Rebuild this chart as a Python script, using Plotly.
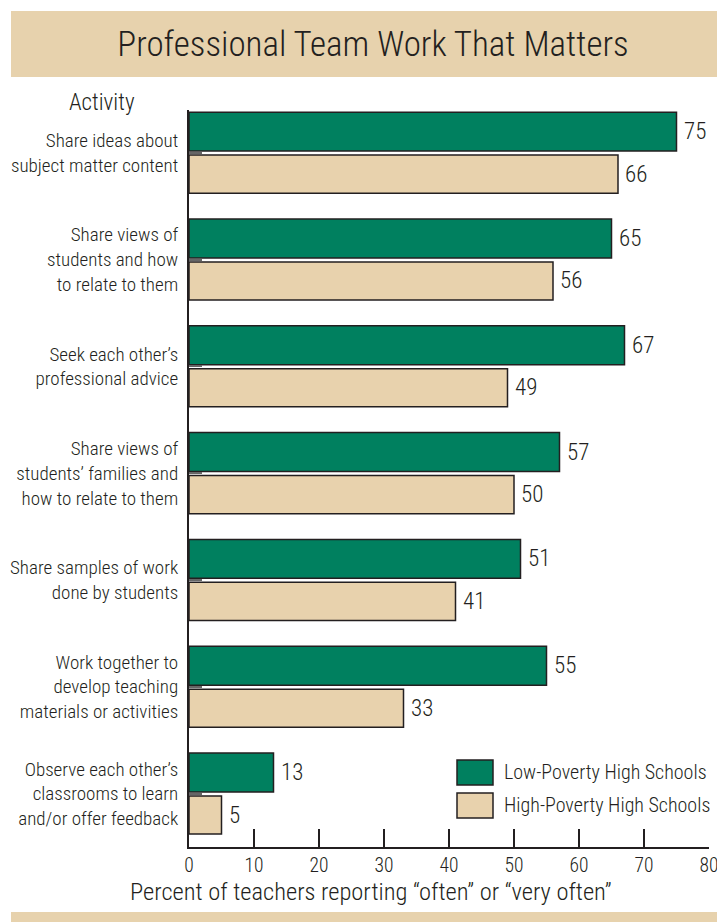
import plotly.graph_objects as go

# ---------------- data ----------------
activities = [
    "Share ideas about<br>subject matter content",
    "Share views of<br>students and how<br>to relate to them",
    "Seek each other’s<br>professional advice",
    "Share views of<br>students’ families and<br>how to relate to them",
    "Share samples of work<br>done by students",
    "Work together to<br>develop teaching<br>materials or activities",
    "Observe each other’s<br>classrooms to learn<br>and/or offer feedback",
]
low_poverty = [75, 65, 67, 57, 51, 55, 13]
high_poverty = [66, 56, 49, 50, 41, 33, 5]
x_ticks = [0, 10, 20, 30, 40, 50, 60, 70, 80]
series_names = ["Low-Poverty High Schools", "High-Poverty High Schools"]
title_text = "Professional Team Work That Matters"
y_title = "Activity"
x_title = "Percent of teachers reporting “often” or “very often”"

# ---------------- style ----------------
W, H = 725, 922
OFF = 8  # page body margin: screen pixel = figure pixel + OFF
# plot area in screen pixels
PX0, PX1, PY0, PY1 = 189, 709, 110, 847
ML, MR = PX0 - OFF, W - (PX1 - OFF)
MT, MB = PY0 - OFF, H - (PY1 - OFF)
PW, PH = PX1 - PX0, PY1 - PY0
GREEN = "#00805F"
BEIGE = "#E8D2AD"
BAND = "#E7D2AD"
INK = "#231F20"
FONT = "Liberation Sans Narrow, Roboto Condensed, DejaVu Sans Condensed, Lato, sans-serif"
TXT = dict(color=INK, family=FONT, weight=300)


def px_x(p):
    return (p - PX0) / PW


def px_y(p):
    return (PY1 - p) / PH


pos = list(range(len(activities)))
G_OFF, G_W = -0.38, 0.365
B_OFF, B_W = 0.022, 0.357

fig = go.Figure()
fig.add_trace(go.Bar(
    x=low_poverty, y=pos, orientation="h", name=series_names[0],
    width=G_W, offset=G_OFF,
    marker=dict(color=GREEN, line=dict(color=INK, width=1.5)),
    showlegend=False, hoverinfo="x",
))
fig.add_trace(go.Bar(
    x=high_poverty, y=pos, orientation="h", name=series_names[1],
    width=B_W, offset=B_OFF,
    marker=dict(color=BEIGE, line=dict(color=INK, width=1.5)),
    showlegend=False, hoverinfo="x",
))

annotations = []
for i, (a, b) in enumerate(zip(low_poverty, high_poverty)):
    annotations.append(dict(x=a, y=i + G_OFF + G_W / 2, xref="x", yref="y",
                            text=str(a), showarrow=False, xanchor="left",
                            xshift=5, font=dict(size=23, **TXT)))
    annotations.append(dict(x=b, y=i + B_OFF + B_W / 2, xref="x", yref="y",
                            text=str(b), showarrow=False, xanchor="left",
                            xshift=5, font=dict(size=23, **TXT)))

annotations.append(dict(x=px_x(67), y=px_y(103), xref="paper", yref="paper",
                        text=y_title, showarrow=False, xanchor="left", yanchor="middle",
                        font=dict(size=23, **TXT)))
annotations.append(dict(x=px_x(371), y=px_y(891), xref="paper", yref="paper",
                        text=x_title, showarrow=False, xanchor="center", yanchor="middle",
                        font=dict(size=24.5, **TXT)))
# legend texts
annotations.append(dict(x=px_x(502), y=px_y(772), xref="paper", yref="paper",
                        text=series_names[0], showarrow=False, xanchor="left", yanchor="middle",
                        font=dict(size=20, **TXT)))
annotations.append(dict(x=px_x(502), y=px_y(805), xref="paper", yref="paper",
                        text=series_names[1], showarrow=False, xanchor="left", yanchor="middle",
                        font=dict(size=20, **TXT)))

shapes = [
    # title band
    dict(type="rect", xref="paper", yref="paper", x0=px_x(11), x1=px_x(W + 20),
         y0=px_y(77), y1=px_y(11), fillcolor=BAND, line=dict(width=0), layer="below"),
    # bottom band
    dict(type="rect", xref="paper", yref="paper", x0=px_x(11), x1=px_x(W + 20),
         y0=px_y(H + 20), y1=px_y(912), fillcolor=BAND, line=dict(width=0), layer="below"),
    # legend swatches
    dict(type="rect", xref="paper", yref="paper", x0=px_x(457), x1=px_x(493),
         y0=px_y(785), y1=px_y(760), fillcolor=GREEN, line=dict(color=INK, width=1.5)),
    dict(type="rect", xref="paper", yref="paper", x0=px_x(457), x1=px_x(493),
         y0=px_y(818), y1=px_y(793), fillcolor=BEIGE, line=dict(color=INK, width=1.5)),
]

fig.update_layout(
    width=W, height=H,
    margin=dict(l=ML, r=MR, t=MT, b=MB, autoexpand=False),
    paper_bgcolor="white", plot_bgcolor="white",
    barmode="overlay",
    font=dict(family=FONT, color=INK),
    title=dict(text=title_text, x=(373 - OFF) / W, y=1 - (44 - OFF) / H,
               xref="container", yref="container",
               xanchor="center", yanchor="middle",
               font=dict(size=35, **TXT)),
    xaxis=dict(range=[0, 80], tickvals=x_ticks, ticks="inside", ticklen=18, tickwidth=1.5,
               tickcolor=INK, showline=True, linecolor=INK, linewidth=2, showgrid=False,
               zeroline=False, tickfont=dict(size=19.5, **TXT),
               ticklabelstandoff=0, fixedrange=True),
    yaxis=dict(range=[6.5, -0.4], tickvals=pos, ticktext=activities, ticks="inside",
               ticklen=13, tickwidth=2, tickcolor="#666", showline=True, linecolor=INK,
               linewidth=2, showgrid=False, zeroline=False,
               tickfont=dict(size=19, **TXT), ticklabelstandoff=5,
               fixedrange=True),
    annotations=annotations,
    shapes=shapes,
)

fig.write_html("out.html")
